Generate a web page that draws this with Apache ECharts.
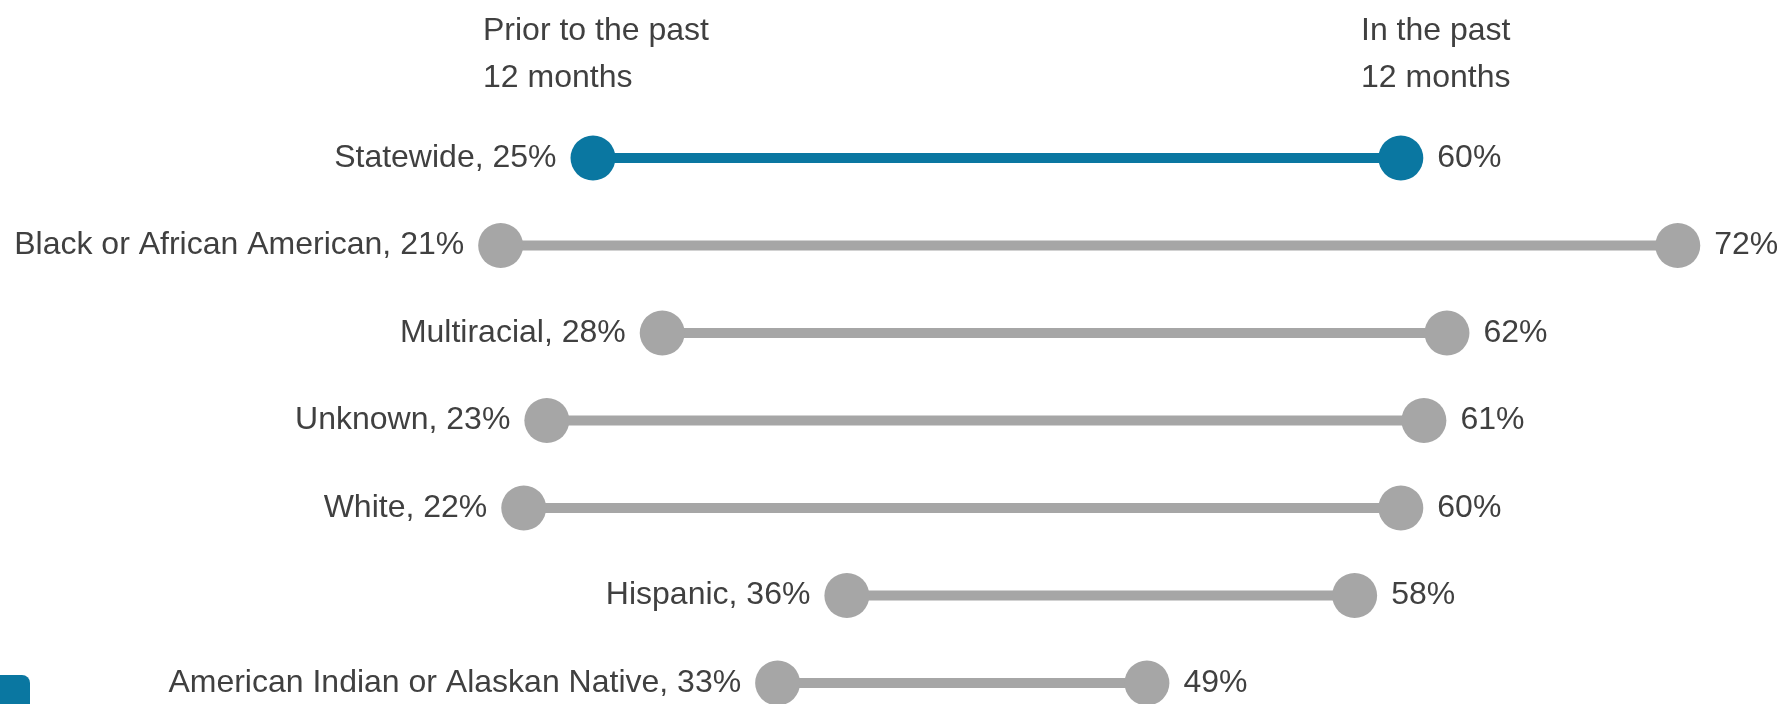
<!DOCTYPE html>
<html>
<head>
<meta charset="utf-8">
<script src="https://cdn.jsdelivr.net/npm/echarts@6/dist/echarts.min.js"></script>
<style>
  html, body { margin: 0; padding: 0; background: #fff; }
  #box1 { width: 1777px; height: 704px; }
</style>
</head>
<body>
<div id="box1"></div>
<script>
// groups and the two time periods (percent)
var groups = ['Statewide', 'Black or African American', 'Multiracial', 'Unknown', 'White', 'Hispanic', 'American Indian or Alaskan Native'];
var prior = [25, 21, 28, 23, 22, 36, 33];
var past = [60, 72, 62, 61, 60, 58, 49];
var headers = ['Prior to the past\n12 months', 'In the past\n12 months'];

var blue = '#0a77a1';
var gray = '#a6a6a6';
var textColor = '#404040';
// no narrow face installed, so a smaller regular face keeps the widths
var font = "'Liberation Sans Narrow', 'Liberation Sans', Arial, sans-serif";
var fontSize = 32;

var chart = echarts.init(document.getElementById('box1'));

function pick(i) {
  return i === 0 ? blue : gray;
}

var lineData = groups.map(function(g, i) {
  return [prior[i], past[i], i];
});
var priorData = prior.map(function(v, i) {
  return [v, i];
});
var pastData = past.map(function(v, i) {
  return [v, i];
});

option = {
  animation: false,
  backgroundColor: '#fff',
  grid: {
    left: 16,
    right: 30,
    top: 158,
    bottom: 21
  },
  xAxis: {
    type: 'value',
    min: 0,
    max: 75,
    show: false
  },
  yAxis: {
    type: 'category',
    data: groups,
    inverse: true,
    boundaryGap: false,
    show: false
  },
  graphic: [
    {
      type: 'text',
      left: 483,
      top: 8,
      style: {
        text: headers[0],
        font: fontSize + 'px ' + font,
        lineHeight: 47,
        fill: textColor
      }
    },
    {
      type: 'text',
      left: 1361,
      top: 8,
      style: {
        text: headers[1],
        font: fontSize + 'px ' + font,
        lineHeight: 47,
        fill: textColor
      }
    },
    {
      type: 'rect',
      left: -10,
      top: 675,
      shape: { width: 40, height: 40, r: 8 },
      style: { fill: blue }
    }
  ],
  series: [
    {
      // connecting bars
      type: 'custom',
      data: lineData,
      encode: { x: [0, 1], y: 2 },
      renderItem: function(params, api) {
        var a = api.coord([api.value(0), api.value(2)]);
        var b = api.coord([api.value(1), api.value(2)]);
        return {
          type: 'line',
          shape: { x1: a[0], y1: a[1], x2: b[0], y2: b[1] },
          style: { stroke: pick(params.dataIndex), lineWidth: 10 }
        };
      },
      z: 1
    },
    {
      name: 'Prior',
      type: 'scatter',
      data: priorData,
      symbolSize: 45,
      itemStyle: {
        opacity: 1,
        color: function(p) { return pick(p.dataIndex); }
      },
      label: {
        show: true,
        position: 'left',
        distance: 14,
        color: textColor,
        fontFamily: font,
        fontSize: fontSize,
        formatter: function(p) {
          return groups[p.dataIndex] + ', ' + p.value[0] + '%';
        }
      },
      z: 2
    },
    {
      name: 'Past',
      type: 'scatter',
      data: pastData,
      symbolSize: 45,
      itemStyle: {
        opacity: 1,
        color: function(p) { return pick(p.dataIndex); }
      },
      label: {
        show: true,
        position: 'right',
        distance: 14,
        color: textColor,
        fontFamily: font,
        fontSize: fontSize,
        formatter: function(p) {
          return p.value[0] + '%';
        }
      },
      z: 2
    }
  ]
};

chart.setOption(option);
</script>
</body>
</html>
